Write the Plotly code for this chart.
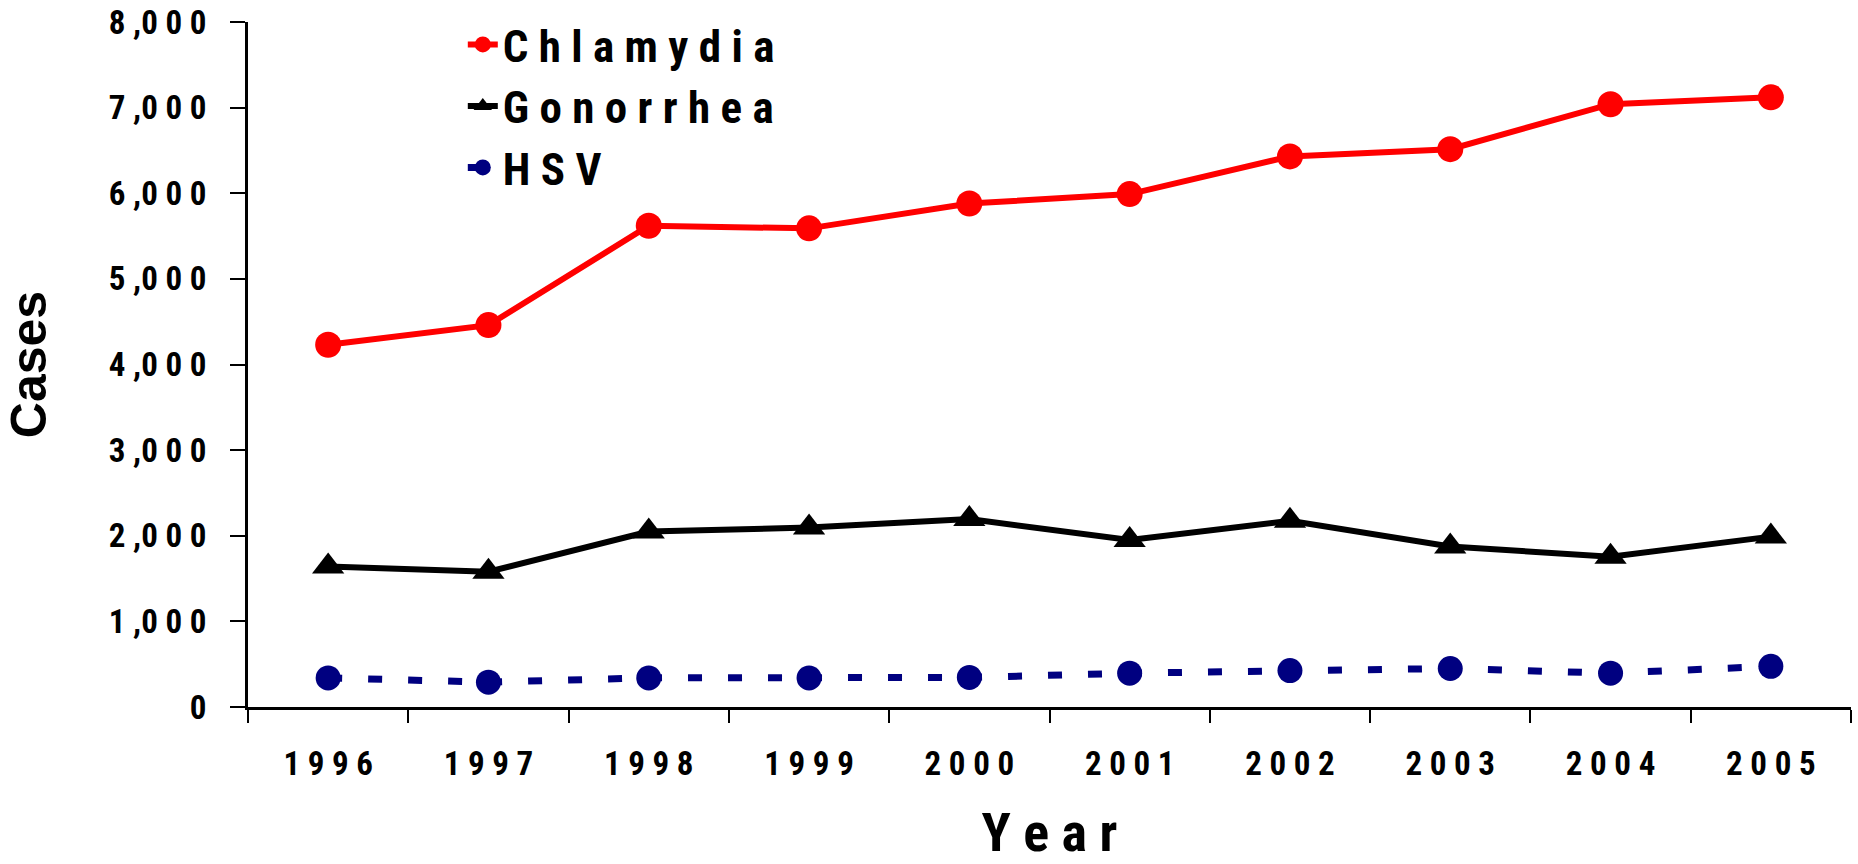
import plotly.graph_objects as go

years = ["1996", "1997", "1998", "1999", "2000", "2001", "2002", "2003", "2004", "2005"]
chlamydia = [4230, 4460, 5620, 5590, 5880, 5990, 6430, 6515, 7040, 7120]
gonorrhea = [1640, 1580, 2050, 2095, 2195, 1950, 2175, 1875, 1755, 1990]
hsv = [340, 290, 340, 340, 345, 395, 425, 450, 395, 475]
series_names = ["Chlamydia", "Gonorrhea", "HSV"]
y_ticks = [0, 1000, 2000, 3000, 4000, 5000, 6000, 7000, 8000]


def spaced(s):
    return " ".join(list(s))


def spaced_num(v):
    s = f"{v:,}"
    parts = s.split(",")
    return " ,".join(" ".join(list(p)) for p in parts)


FONT = "Roboto Condensed, Liberation Sans, Arial, sans-serif"
WIDE = "Liberation Sans, Arial, sans-serif"
xcat = [spaced(y) for y in years]

fig = go.Figure()
fig.add_trace(go.Scatter(
    x=xcat, y=chlamydia, name=spaced(series_names[0]), mode="lines+markers",
    line=dict(color="#FF0000", width=6),
    marker=dict(symbol="circle", size=26, color="#FF0000"),
))
fig.add_trace(go.Scatter(
    x=xcat, y=gonorrhea, name=spaced(series_names[1]), mode="lines+markers",
    line=dict(color="#000000", width=6),
    marker=dict(symbol="triangle-up", size=28, color="#000000"),
))
fig.add_trace(go.Scatter(
    x=xcat, y=hsv, name=spaced(series_names[2]), mode="lines+markers",
    line=dict(color="#000080", width=7, dash="14px,26px"),
    marker=dict(symbol="circle", size=25, color="#000080"),
))

fig.update_layout(
    width=1858, height=864,
    paper_bgcolor="white", plot_bgcolor="white",
    margin=dict(l=248, r=7, t=22, b=157, autoexpand=False),
    font=dict(family=FONT, color="black", size=32),
    showlegend=True,
    legend=dict(
        x=0.134, y=0.99, yref="container", xanchor="left", yanchor="top",
        bgcolor="rgba(0,0,0,0)",
        font=dict(family=FONT, size=45, color="black", weight="bold"),
        tracegroupgap=0,
    ),
)

fig.update_xaxes(
    type="category", range=[-0.5, 9.5], automargin=False,
    showline=True, linecolor="black", linewidth=3,
    ticks="outside", tickson="boundaries", ticklen=13, tickwidth=2, tickcolor="black",
    showgrid=False, zeroline=False,
    tickfont=dict(family=FONT, size=33, color="black", weight="bold"),
    ticklabelstandoff=25,
    title=dict(text=spaced("Year"), font=dict(family=FONT, size=54, color="black", weight="bold"), standoff=58),
)
fig.update_yaxes(
    range=[0, 8000], automargin=False,
    tickmode="array", tickvals=y_ticks, ticktext=[spaced_num(v) for v in y_ticks],
    showline=True, linecolor="black", linewidth=3,
    ticks="outside", ticklen=15, tickwidth=2, tickcolor="black",
    showgrid=False, zeroline=False,
    tickfont=dict(family=FONT, size=33, color="black", weight="bold"),
    ticklabelstandoff=17,
    title=dict(text="Cases", font=dict(family=WIDE, size=50, color="black", weight="bold"), standoff=47),
)

fig.write_html("out.html", config={"displayModeBar": False},
               post_script="document.body.style.margin='0px';")
